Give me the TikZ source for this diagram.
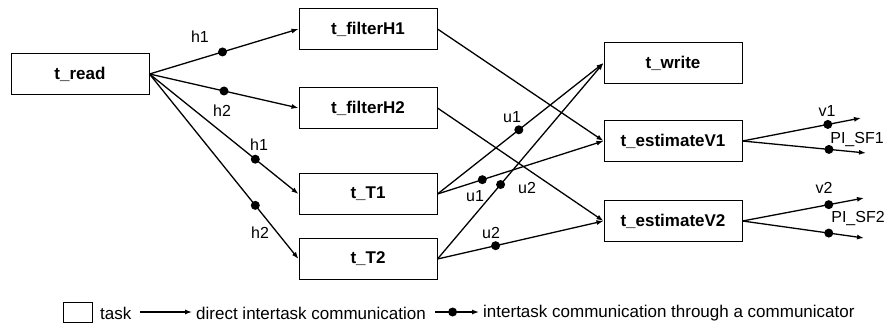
\documentclass[tikz,border=0pt]{standalone}
\usepackage{fontspec}
\setmainfont{Liberation Sans}
\usetikzlibrary{arrows.meta}
\tikzset{
  task/.style={draw, line width=1pt, minimum width=138pt, minimum height=41pt, inner sep=0pt,
    font=\fontsize{17}{19}\selectfont\bfseries},
  conn/.style={line width=1.3pt, -{Latex[length=7pt,width=5pt]}},
  dotc/.style={circle, fill=black, inner sep=0pt, minimum size=9pt},
  lbl/.style={inner sep=0pt, font=\fontsize{16}{18}\selectfont},
  leg/.style={inner sep=0pt, anchor=west, font=\fontsize{17}{19}\selectfont},
}
\begin{document}
\begin{tikzpicture}[x=1pt,y=-1pt]
\useasboundingbox (0,0) rectangle (886,326);
% tasks
\node[task] (read) at (80,74) {t\_read};
\node[task] (fH1) at (368,29) {t\_filterH1};
\node[task] (fH2) at (368,108) {t\_filterH2};
\node[task] (T1) at (368,194) {t\_T1};
\node[task] (T2) at (368,259) {t\_T2};
\node[task] (wr) at (673,63) {t\_write};
\node[task] (eV1) at (673,141) {t\_estimateV1};
\node[task] (eV2) at (673,221) {t\_estimateV2};
% communicator connections
\draw[conn] (read.east) -- node[dotc, pos=0.49] (d1) {} (fH1.west);
\draw[conn] (read.east) -- node[dotc, pos=0.50] (d2) {} (fH2.west);
\draw[conn] (read.east) -- node[dotc, pos=0.71] (d3) {} (T1.west);
\draw[conn] (read.east) -- node[dotc, pos=0.71] (d4) {} (T2.west);
\draw[conn] (T1.east) -- node[dotc, pos=0.49] (d5) {} (wr.west);
\draw[conn] (T1.east) -- node[dotc, pos=0.27] (d6) {} (eV1.west);
\draw[conn] (T2.east) -- node[dotc, pos=0.38] (d7) {} (wr.west);
\draw[conn] (T2.east) -- node[dotc, pos=0.35] (d8) {} (eV2.west);
% direct connections
\draw[conn] (fH1.east) -- (eV1.west);
\draw[conn] (fH2.east) -- (eV2.west);
% outputs
\coordinate (o1) at (861,118);
\coordinate (o2) at (866,153);
\coordinate (o3) at (864,198);
\coordinate (o4) at (864,238);
\draw[conn] (eV1.east) -- node[dotc, pos=0.72] (d9) {} (o1);
\draw[conn] (eV1.east) -- node[dotc, pos=0.70] (d10) {} (o2);
\draw[conn] (eV2.east) -- node[dotc, pos=0.71] (d11) {} (o3);
\draw[conn] (eV2.east) -- node[dotc, pos=0.71] (d12) {} (o4);
% labels
\node[lbl] (lh1a) at (200,37) {h1};
\node[lbl] (lh2a) at (222,111) {h2};
\node[lbl] (lh1b) at (259,145) {h1};
\node[lbl] (lh2b) at (260,233) {h2};
\node[lbl] (lu1a) at (512,117) {u1};
\node[lbl] (lu1b) at (475,196) {u1};
\node[lbl] (lu2a) at (527,188) {u2};
\node[lbl] (lu2b) at (491,233) {u2};
\node[lbl] (lv1) at (827,111) {v1};
\node[lbl] (lp1) at (857,140) {PI\_SF1};
\node[lbl] (lv2) at (824,188) {v2};
\node[lbl] (lp2) at (858,219) {PI\_SF2};
% legend
\node[draw, line width=1pt, minimum width=29pt, minimum height=20pt, inner sep=0pt] (lgbox) at (77.5,312) {};
\node[leg] (lgtask) at (100,313) {task};
\coordinate (la1) at (140,312);
\coordinate (la2) at (192,312);
\draw[conn] (la1) -- (la2);
\node[leg] (lgdirect) at (196,313) {direct intertask communication};
\coordinate (lb1) at (435,312);
\coordinate (lb2) at (479,312);
\draw[conn] (lb1) -- node[dotc, pos=0.4] (lgdot) {} (lb2);
\node[leg] (lgcomm) at (483,313) {intertask communication through a communicator};
\end{tikzpicture}
\end{document}
